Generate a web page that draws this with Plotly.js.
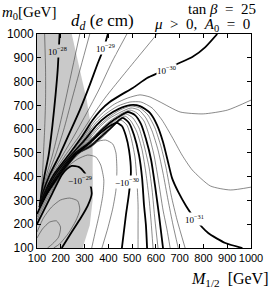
<!DOCTYPE html>
<html><head><meta charset="utf-8">
<script src="https://cdn.plot.ly/plotly-3.0.1.min.js"></script>
<style>html,body{margin:0;padding:0;background:#fff}#chart{width:272px;height:290px}</style>
</head><body><div id="chart"></div>
<script>
// ---- axis ticks ----
const xTickVals = [100,200,300,400,500,600,700,800,900,1000];
const xTickText = ['100','200','300','400','500','600','700','800','900','1000'];
const yTickVals = [100,200,300,400,500,600,700,800,900,1000];
const yTickText = ['100','200','300','400','500','600','700','800','900','1000'];

// ---- shaded (excluded) region, M1/2 and m0 in GeV ----
const shadeM  = [100,100,246,309,326,334,334,322,292];
const shadeM0 = [100,1000,1000,722,617,512,302,197,100];

// ---- positive contours ----
const p2e28M  = [111,117,123,127,132,136,136,132];
const p2e28m0 = [272,331,407,491,596,722,849,1000];
const p1e28M  = [111,119,132,149,165,178,187,195];
const p1e28m0 = [272,331,407,491,617,744,849,1000];
const p5e29M  = [111,121,140,165,191,220,250,280];
const p5e29m0 = [272,331,407,491,596,722,861,1000];
const p2e29M  = [111,123,146,178,212,246,284,322];
const p2e29m0 = [272,331,407,491,596,722,861,1000];
const p1e29M  = [111,125,153,195,237,280,322,356,381,398];
const p1e29m0 = [272,331,407,491,584,680,786,878,941,1000];
const p5e30M  = [111,127,159,208,258,309,360,415,478];
const p5e30m0 = [272,331,407,491,575,668,765,882,1000];
const p2e30M  = [111,130,165,220,275,330,389,453,525,605];
const p2e30m0 = [272,331,407,491,567,651,735,815,903,1000];
const p1e30M  = [111,132,170,233,288,334,368,406,453,503,563,618,689,753,808,858];
const p1e30m0 = [272,331,407,491,567,638,680,714,744,773,815,840,874,903,945,1000];
const p5e31M  = [111,133,174,237,296,343,381,427,482,533,575,618,702,799,901,1000];
const p5e31m0 = [272,331,407,491,567,634,672,706,731,744,735,714,672,664,680,722];
const p2e31M  = [111,134,176,242,301,347,389,440,491,537,584,626,668,710,753,829,913,1000];
const p2e31m0 = [272,331,407,491,563,626,664,697,714,714,689,638,567,491,428,361,344,356];
const p1e31M  = [111,135,178,244,305,351,394,444,491,533,575,605,630,651,668,694,727,765,820,892,964];
const p1e31m0 = [272,331,407,491,559,617,655,685,701,697,668,617,546,462,394,336,277,222,163,121,100];

// ---- contours bunched around the sign change ----
const b8M  = [111,137,180,246,309,356,398,449,495,533,567,596,622,643,664,689,723];
const b8m0 = [272,331,407,491,554,609,647,680,697,689,659,605,525,436,323,218,100];
const b7M  = [111,138,182,248,313,360,402,453,495,529,558,584,609,630,651,672,694];
const b7m0 = [272,331,407,491,550,605,643,672,689,680,647,592,512,415,302,197,100];
const b6M  = [111,138,185,250,315,364,406,453,491,520,550,571,592,609,630,647,660];
const b6m0 = [272,331,407,491,546,596,634,664,680,668,634,575,491,394,260,176,100];
const b5M  = [111,139,187,252,318,368,411,449,482,512,537,558,580,596,613,630];
const b5m0 = [272,331,407,491,542,592,630,655,672,659,622,559,470,365,239,100];
const b4M  = [111,140,189,254,322,373,411,444,474,503,529,550,571,584,596,609];
const b4m0 = [272,331,407,491,537,588,622,647,664,647,605,533,441,344,218,100];
const b3M  = [111,141,191,256,324,373,411,440,470,495,520,542,558,571,580,588];
const b3m0 = [272,331,407,491,533,579,613,638,655,634,588,512,415,310,209,100];
const b2M  = [111,142,193,258,326,377,411,436,461,487,508,529,542,550,558,563];
const b2m0 = [272,331,407,491,529,575,605,630,647,626,575,491,394,281,197,100];
const b1M  = [111,143,195,261,328,377,411,432,453,478,495,512,520,525,525,525];
const b1m0 = [272,331,407,491,525,567,601,622,638,617,567,483,386,281,197,100];

// ---- negative contours ----
const n1e30M  = [100,144,197,263,322,368,406,436,457,474,487,495,487,474,457];
const n1e30m0 = [243,331,407,491,542,584,613,626,613,571,512,420,331,239,100];
const n2e30M  = [100,151,199,250,301,347,389,419,432,436,432,419,398,373];
const n2e30m0 = [230,331,407,470,517,546,554,537,500,428,344,268,184,100];
const n5e30M  = [100,157,201,237,271,313,347,368,381,377,364,347,330];
const n5e30m0 = [218,331,407,449,474,491,483,449,386,323,251,176,100];
const n1e29M  = [100,165,204,225,246,275,301,322,330,313,284,246,204];
const n1e29m0 = [201,331,407,432,445,441,415,373,327,277,226,167,100];
const n2e29M  = [100,127,161,199,237,271,280,263,233,195,170];
const n2e29m0 = [167,226,272,302,310,298,260,214,163,117,100];
const n5e29M  = [100,123,153,182,199,191,165,144];
const n5e29m0 = [142,180,209,214,188,146,117,100];

// ---- contour labels ----
const labText = ['10<sup>\u221228</sup>','10<sup>\u221229</sup>','10<sup>\u221230</sup>','\u221210<sup>\u221229</sup>','\u221210<sup>\u221230</sup>','10<sup>\u221231</sup>'];
const labM  = [187,389,643,280,478,761];
const labM0 = [929,941,849,386,378,222];
const labOnShade = [true,false,false,true,false,false];

const SHADE = '#c9c9c9';
const traces = [];
traces.push({type:'scatter',mode:'lines',x:shadeM,y:shadeM0,fill:'toself',fillcolor:SHADE,
  line:{width:0,color:SHADE},hoverinfo:'skip'});

function curve(xs, ys, thick){
  traces.push({type:'scatter',mode:'lines',x:xs,y:ys,hoverinfo:'skip',
    line:{color: thick ? '#000' : '#3a3a3a', width: thick ? 1.8 : 0.6, shape:'spline', smoothing:0.6}});
}
curve(p2e28M,p2e28m0,false);
curve(p1e28M,p1e28m0,true);
curve(p5e29M,p5e29m0,false);
curve(p2e29M,p2e29m0,false);
curve(p1e29M,p1e29m0,true);
curve(p5e30M,p5e30m0,false);
curve(p2e30M,p2e30m0,false);
curve(p1e30M,p1e30m0,true);
curve(p5e31M,p5e31m0,false);
curve(p2e31M,p2e31m0,false);
curve(p1e31M,p1e31m0,true);
curve(b8M,b8m0,false);
curve(b7M,b7m0,false);
curve(b6M,b6m0,false);
curve(b5M,b5m0,true);
curve(b4M,b4m0,false);
curve(b3M,b3m0,false);
curve(b2M,b2m0,true);
curve(b1M,b1m0,false);
curve(n1e30M,n1e30m0,true);
curve(n2e30M,n2e30m0,false);
curve(n5e30M,n5e30m0,false);
curve(n1e29M,n1e29m0,true);
curve(n2e29M,n2e29m0,false);
curve(n5e29M,n5e29m0,false);

const SERIF = 'Liberation Serif, DejaVu Serif, serif';
const NB = '\u00a0';
const annotations = labText.map((t,i)=>({
  x:labM[i], y:labM0[i], xref:'x', yref:'y', text:t, showarrow:false,
  font:{family:SERIF,size:9,color:'#000'}, bgcolor: labOnShade[i] ? SHADE : '#fff', borderpad:0
}));
annotations.push(
  {xref:'paper',yref:'paper',x:-0.173,y:1.098,xanchor:'left',yanchor:'middle',showarrow:false,
   text:'<i>m</i><sub>0</sub>[GeV]',font:{family:SERIF,size:15,color:'#000'}},
  {xref:'paper',yref:'paper',x:0.150,y:1.058,xanchor:'left',yanchor:'middle',showarrow:false,
   text:'<i>d<sub>d</sub></i>'+NB+'(<i>e</i>'+NB+'cm)',font:{family:SERIF,size:17,color:'#000'}},
  {xref:'paper',yref:'paper',x:1.033,y:1.117,xanchor:'right',yanchor:'middle',showarrow:false,
   text:'tan'+NB+'<i>\u03b2</i>'+NB+NB+'='+NB+NB+'25',font:{family:SERIF,size:15,color:'#000'}},
  {xref:'paper',yref:'paper',x:1.005,y:1.042,xanchor:'right',yanchor:'middle',showarrow:false,
   text:'<i>\u03bc</i>'+NB+NB+'&gt;'+NB+NB+'0,'+NB+NB+'<i>A</i><sub>0</sub>'+NB+NB+'='+NB+NB+'0',font:{family:SERIF,size:15,color:'#000'}},
  {xref:'paper',yref:'paper',x:1.093,y:-0.145,xanchor:'right',yanchor:'middle',showarrow:false,
   text:'<i>M</i><sub>1/2</sub>'+NB+NB+'[GeV]',font:{family:SERIF,size:16,color:'#000'}}
);

const axisCommon = {ticks:'inside',ticklen:4,tickcolor:'#000',tickwidth:1,showline:true,linecolor:'#000',
  linewidth:1,mirror:'ticks',showgrid:false,zeroline:false,tickangle:0};

const layout = {
  width:272,height:290,margin:{l:37,r:21,t:34,b:42},
  paper_bgcolor:'#fff',plot_bgcolor:'#fff',showlegend:false,
  xaxis:Object.assign({range:[100,1000],tickvals:xTickVals,ticktext:xTickText,
    tickfont:{family:'Liberation Sans, Arial, sans-serif',size:11,color:'#000'}},axisCommon),
  yaxis:Object.assign({range:[100,1000],tickvals:yTickVals,ticktext:yTickText,
    tickfont:{family:'Liberation Sans, Arial, sans-serif',size:12,color:'#000'}},axisCommon),
  annotations:annotations
};
Plotly.newPlot('chart',traces,layout,{displayModeBar:false,staticPlot:true});
</script></body></html>
